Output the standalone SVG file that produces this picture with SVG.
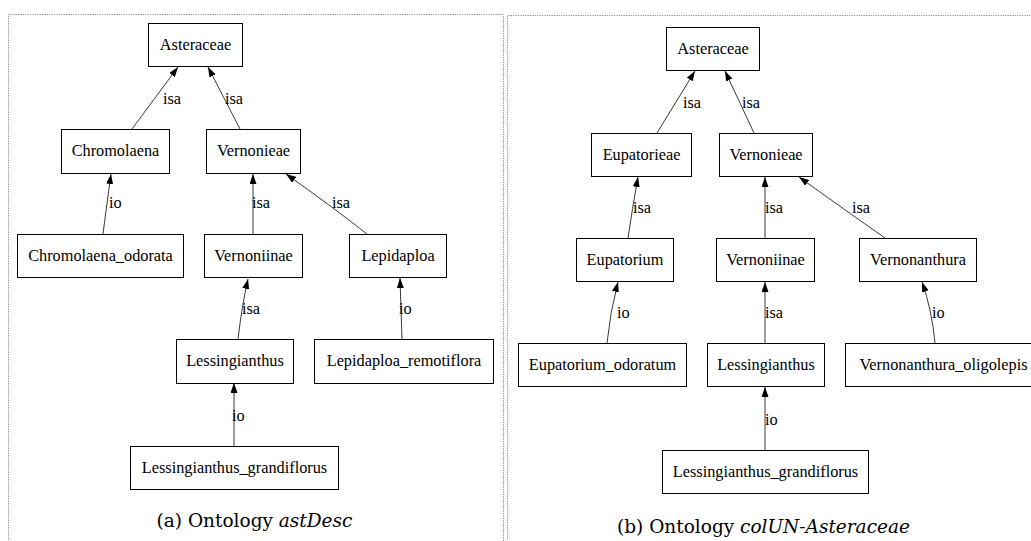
<svg xmlns="http://www.w3.org/2000/svg" width="1031" height="541" viewBox="0 0 1031 541">
<style>
.frame{fill:none;stroke:#8a8a8a;stroke-width:1;stroke-dasharray:1.2,1.2}
.box{fill:#fff;stroke:#000;stroke-width:1}
.lbl{font-size:16.3px;fill:#000;text-anchor:middle}
.el{font-size:16.3px;fill:#000}
.edge{fill:none;stroke:#3a3a3a;stroke-width:1;marker-end:url(#arr)}
.cap{font-size:18.5px;fill:#000;text-anchor:middle}
</style>
<defs>
<marker id="arr" markerUnits="userSpaceOnUse" markerWidth="11" markerHeight="8" refX="10" refY="3.5" orient="auto">
<path d="M0,0 L10,3.5 L0,7 z" fill="#000"/>
</marker>
</defs>
<rect width="1031" height="541" fill="#fff"/>
<path class="frame" d="M8.5,545 V14.5 H503.5 V545"/>
<path class="frame" d="M507.5,545 V15.5 H1035"/>

<g id="connectors" font-family="'Liberation Serif', Tinos, 'Times New Roman', Times, 'DejaVu Serif', serif">
<path class="edge" d="M132,129 L178,67"/>
<path class="edge" d="M240,129 L208,67"/>
<path class="edge" d="M103,234 Q106,210 111,174"/>
<path class="edge" d="M253,234 L253,174"/>
<path class="edge" d="M367,234 Q330,205 286,174"/>
<path class="edge" d="M238,339 Q242,305 248,279"/>
<path class="edge" d="M402,339 Q401,310 400,278"/>
<path class="edge" d="M234,446 L234,383"/>
<path class="edge" d="M657,133 L695,71"/>
<path class="edge" d="M754,133 L725,71"/>
<path class="edge" d="M628,238 Q632,210 638,177"/>
<path class="edge" d="M765,238 L765,177"/>
<path class="edge" d="M885,238 Q845,210 799,177"/>
<path class="edge" d="M607,343 Q610,312 618,282"/>
<path class="edge" d="M765,343 L765,282"/>
<path class="edge" d="M935,343 Q932,310 922,282"/>
<path class="edge" d="M765,450 L765,387"/>
<text class="el" x="163" y="104">isa</text>
<text class="el" x="225" y="104">isa</text>
<text class="el" x="109" y="208">io</text>
<text class="el" x="252" y="208">isa</text>
<text class="el" x="332" y="208">isa</text>
<text class="el" x="242" y="314">isa</text>
<text class="el" x="399" y="314">io</text>
<text class="el" x="232" y="421">io</text>
<text class="el" x="683" y="108">isa</text>
<text class="el" x="742" y="108">isa</text>
<text class="el" x="633" y="213">isa</text>
<text class="el" x="765" y="213">isa</text>
<text class="el" x="852" y="213">isa</text>
<text class="el" x="617" y="318">io</text>
<text class="el" x="765" y="318">isa</text>
<text class="el" x="932" y="318">io</text>
<text class="el" x="765" y="425">io</text>
</g>

<g id="nodes" font-family="'Liberation Serif', Tinos, 'Times New Roman', Times, 'DejaVu Serif', serif">
<g id="a-asteraceae"><rect class="box" x="148.5" y="23.5" width="94" height="43"/><text class="lbl" x="195.5" y="50">Asteraceae</text></g>
<g id="a-chromolaena"><rect class="box" x="61.5" y="129.5" width="108" height="44"/><text class="lbl" x="115.5" y="156">Chromolaena</text></g>
<g id="a-vernonieae"><rect class="box" x="206.5" y="129.5" width="94" height="44"/><text class="lbl" x="253.5" y="156">Vernonieae</text></g>
<g id="a-chromolaena-odorata"><rect class="box" x="17.5" y="234.5" width="166" height="43"/><text class="lbl" x="100.5" y="261">Chromolaena_odorata</text></g>
<g id="a-vernoniinae"><rect class="box" x="204.5" y="234.5" width="98" height="43"/><text class="lbl" x="253.5" y="261">Vernoniinae</text></g>
<g id="a-lepidaploa"><rect class="box" x="349.5" y="234.5" width="97" height="43"/><text class="lbl" x="398" y="261">Lepidaploa</text></g>
<g id="a-lessingianthus"><rect class="box" x="176.5" y="339.5" width="117" height="44"/><text class="lbl" x="235" y="366">Lessingianthus</text></g>
<g id="a-lepidaploa-remotiflora"><rect class="box" x="314.5" y="339.5" width="179" height="44"/><text class="lbl" x="404" y="366">Lepidaploa_remotiflora</text></g>
<g id="a-lessingianthus-grandiflorus"><rect class="box" x="130.5" y="446.5" width="208" height="43"/><text class="lbl" x="234.5" y="473">Lessingianthus_grandiflorus</text></g>

<g id="b-asteraceae"><rect class="box" x="666.5" y="27.5" width="93" height="43"/><text class="lbl" x="713" y="54">Asteraceae</text></g>
<g id="b-eupatorieae"><rect class="box" x="591.5" y="133.5" width="100" height="43"/><text class="lbl" x="641.5" y="160">Eupatorieae</text></g>
<g id="b-vernonieae"><rect class="box" x="719.5" y="133.5" width="93" height="43"/><text class="lbl" x="766" y="160">Vernonieae</text></g>
<g id="b-eupatorium"><rect class="box" x="576.5" y="238.5" width="97" height="43"/><text class="lbl" x="625" y="265">Eupatorium</text></g>
<g id="b-vernoniinae"><rect class="box" x="716.5" y="238.5" width="98" height="43"/><text class="lbl" x="765.5" y="265">Vernoniinae</text></g>
<g id="b-vernonanthura"><rect class="box" x="859.5" y="238.5" width="117" height="43"/><text class="lbl" x="918" y="265">Vernonanthura</text></g>
<g id="b-eupatorium-odoratum"><rect class="box" x="518.5" y="343.5" width="168" height="43"/><text class="lbl" x="602.5" y="370">Eupatorium_odoratum</text></g>
<g id="b-lessingianthus"><rect class="box" x="707.5" y="343.5" width="117" height="43"/><text class="lbl" x="766" y="370">Lessingianthus</text></g>
<g id="b-vernonanthura-oligolepis"><rect class="box" x="845.5" y="343.5" width="196" height="43"/><text class="lbl" x="943.5" y="370">Vernonanthura_oligolepis</text></g>
<g id="b-lessingianthus-grandiflorus"><rect class="box" x="662.5" y="450.5" width="206" height="43"/><text class="lbl" x="765.5" y="477">Lessingianthus_grandiflorus</text></g>
</g>

<g id="captions" font-family="'DejaVu Serif', 'Liberation Serif', Tinos, serif">
<text class="cap" x="254.5" y="527">(a) Ontology <tspan font-style="italic">astDesc</tspan></text>
<text class="cap" x="763.5" y="533">(b) Ontology <tspan font-style="italic">colUN-Asteraceae</tspan></text>
</g>
</svg>
